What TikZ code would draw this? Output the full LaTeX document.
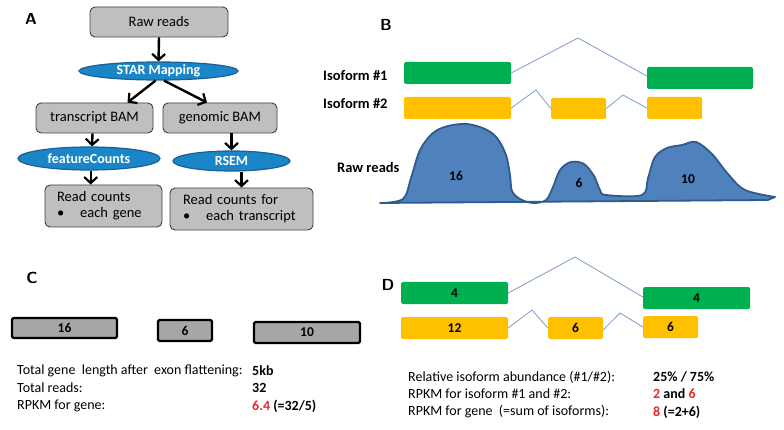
\documentclass[tikz,border=0pt]{standalone}
\usepackage{fontspec}
\setmainfont{Carlito}
\usetikzlibrary{shapes.geometric,arrows.meta,calc}
\definecolor{boxgray}{HTML}{BFBFBF}
\definecolor{boxedge}{HTML}{404040}
\definecolor{ellblue}{HTML}{1A86C8}
\definecolor{elledge}{HTML}{1C5E96}
\definecolor{exongreen}{HTML}{00B050}
\definecolor{exonyellow}{HTML}{FFC000}
\definecolor{intronblue}{HTML}{7F9CC8}
\definecolor{readblue}{HTML}{4F81BD}
\definecolor{readedge}{HTML}{2F5A8C}
\definecolor{cgray}{HTML}{A6A6A6}
\definecolor{valred}{HTML}{E8262A}
\tikzset{
  graybox/.style={draw=boxedge, fill=boxgray, rounded corners=5pt, line width=0.9pt,
    font=\fontsize{14.5}{17}\selectfont, inner sep=0pt},
  ellnode/.style={ellipse, draw=elledge, fill=ellblue, line width=1.2pt, inner sep=0pt,
    text=white, font=\fontsize{14}{16}\selectfont\bfseries},
  arr/.style={line width=2.4pt, -{Straight Barb[length=6pt,width=13pt,line width=2.2pt]}},
  exon1/.style={fill=exongreen, rounded corners=1.5pt, inner sep=0pt,
    font=\fontsize{13.5}{15}\selectfont\bfseries},
  exon2/.style={fill=exonyellow, rounded corners=1.5pt, inner sep=0pt,
    font=\fontsize{13.5}{15}\selectfont\bfseries},
  intron/.style={draw=intronblue, line width=0.8pt},
  cbox/.style={draw=black, fill=cgray, line width=2.4pt, rounded corners=1.5pt, inner sep=0pt,
    font=\fontsize{13.5}{15}\selectfont\bfseries},
  panel/.style={font=\fontsize{16}{18}\selectfont\sffamily\bfseries},
  txt/.style={anchor=west, inner sep=0pt, font=\fontsize{14}{16}\selectfont},
  val/.style={anchor=west, inner sep=0pt, font=\fontsize{14}{16}\selectfont\bfseries},
  lbl/.style={anchor=west, inner sep=0pt, font=\fontsize{14.5}{16}\selectfont\bfseries}
}
\begin{document}
\begin{tikzpicture}[x=1pt,y=-1pt]
\useasboundingbox (0,0) rectangle (784,430);

% A
\node [panel] (la) at (31,19) {A};
\node [graybox, minimum width=138, minimum height=30] (raw) at (159,22) {Raw reads};
\node [ellnode, minimum width=159, minimum height=18] (star) at (158.5,71) {STAR Mapping};
\node [graybox, minimum width=117, minimum height=30] (tbam) at (94.5,118) {transcript BAM};
\node [graybox, minimum width=114, minimum height=30] (gbam) at (220,118) {genomic BAM};
\node [ellnode, minimum width=142, minimum height=23] (fc) at (89,158.5) {featureCounts};
\node [ellnode, minimum width=117, minimum height=20] (rsem) at (231.5,161) {RSEM};
\node [graybox, minimum width=117, minimum height=42, text width=93, align=left] (rc1) at (103.5,206)
  {Read counts\\[-1pt]\textbullet\hspace{1.1em}each gene};
\node [graybox, minimum width=143, minimum height=42, text width=117, align=left] (rc2) at (241.5,209)
  {Read counts for\\[-1pt]\textbullet\hspace{1.1em}each transcript};

\draw [arr] (raw.south) -- (star.north);
\draw [arr] (star.253) -- ($(tbam.north)+(33,0)$);
\draw [arr] (star.300) -- ($(gbam.north)+(-13,0)$);
\draw [arr] ($(tbam.south)+(-2,0)$) -- ($(fc.north)+(3,0)$);
\draw [arr] (gbam.south -| rsem.north) -- (rsem.north);
\draw [arr] (fc.278) -- (fc.278 |- rc1.north);
\draw [arr] (rsem.south -| rc2.north) -- (rc2.north);

% B
\node [panel] (lb) at (386,25) {B};
\node [lbl] (iso1) at (323,76) {Isoform \#1};
\node [lbl] (iso2) at (323,104) {Isoform \#2};

\node [exon1, minimum width=107, minimum height=22] (g1) at (457.5,73) {};
\node [exon1, minimum width=106, minimum height=22] (g2) at (700,78) {};
\node [exon2, minimum width=107, minimum height=22] (y1) at (457.5,108) {};
\node [exon2, minimum width=55, minimum height=21] (y2) at (578.5,108.5) {};
\node [exon2, minimum width=55, minimum height=22] (y3) at (674.5,108) {};

\draw [intron] (g1.east) -- (578,38) -- ($(g2.west)+(0,-2)$);
\draw [intron] (y1.east) -- (536,90) -- (y2.west);
\draw [intron] (y2.east) -- (623,95) -- (y3.west);

\node [lbl] (rawlbl) at (337,167) {Raw reads};
\draw [fill=readblue, draw=readedge, line width=1.8pt, line join=round]
  plot [smooth, tension=0.55] coordinates {(380,203) (403,199) (411,178) (420,150) (433,133)
    (448,126) (467,124) (485,129) (497,138) (506,155) (510,175) (512,191) (520,199) (533,203)
    (546,200) (553,187) (560,170) (571,162) (584,164) (594,176) (600,190) (606,195) (642,195)
    (648,178) (655,157) (667,148) (682,145) (696,142) (712,154) (728,174) (745,190) (775,197)}
  -- (768,200) -- cycle;
\node [font=\fontsize{13.5}{15}\selectfont\bfseries] (r16) at (456,176) {16};
\node [font=\fontsize{13.5}{15}\selectfont\bfseries] (r6) at (579,183) {6};
\node [font=\fontsize{13.5}{15}\selectfont\bfseries] (r10) at (688,179) {10};

% C
\node [panel] (lc) at (32,278) {C};
\node [cbox, minimum width=105, minimum height=20] (cb1) at (64.5,328) {16};
\node [cbox, minimum width=54, minimum height=21] (cb2) at (185,330.5) {6};
\node [cbox, minimum width=106, minimum height=21] (cb3) at (307,332.5) {10};

\node [txt] (c1) at (17,371) {Total gene~ length after~ exon flattening:};
\node [txt] (c2) at (17,388) {Total reads:};
\node [txt] (c3) at (17,406) {RPKM for gene:};
\node [val] (c1v) at (252,371) {5kb};
\node [val] (c2v) at (252,388) {32};
\node [val] (c3v) at (252,406) {\textcolor{valred}{6.4} (=32/5)};

% D
\node [panel] (ld) at (388,285) {D};
\node [exon1, minimum width=107, minimum height=22] (dg1) at (454.5,293) {4};
\node [exon1, minimum width=107, minimum height=22] (dg2) at (696.5,298) {4};
\node [exon2, minimum width=107, minimum height=22] (dy1) at (454.5,328) {12};
\node [exon2, minimum width=55, minimum height=22] (dy2) at (575.5,328) {6};
\node [exon2, minimum width=55, minimum height=22] (dy3) at (670.5,327) {6};

\draw [intron] (dg1.east) -- (575,257) -- ($(dg2.west)+(0,-1)$);
\draw [intron] (dy1.east) -- (532,310) -- (dy2.west);
\draw [intron] ($(dy2.east)+(0,2)$) -- (620,313) -- (dy3.west);

\node [txt] (d1) at (408,377) {Relative isoform abundance (\#1/\#2):};
\node [txt] (d2) at (408,394) {RPKM for isoform \#1 and \#2:};
\node [txt] (d3) at (408,412) {RPKM for gene~ (=sum of isoforms):};
\node [val] (d1v) at (653,377) {25\% / 75\%};
\node [val] (d2v) at (653,394) {\textcolor{valred}{2} and \textcolor{valred}{6}};
\node [val] (d3v) at (653,412) {\textcolor{valred}{8} (=2+6)};
\end{tikzpicture}
\end{document}
